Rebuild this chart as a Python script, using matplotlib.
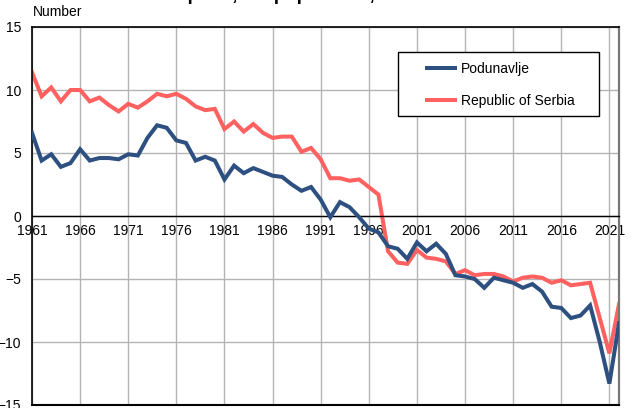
import matplotlib.pyplot as plt
from matplotlib.patches import Rectangle

plt.rcParams['font.family'] = ['Liberation Sans', 'DejaVu Sans']

years = list(range(1961, 2023))

# natural increase per 1,000 population
podunavlje = [6.6, 4.4, 4.9, 3.9, 4.2, 5.3, 4.4, 4.6, 4.6, 4.5,
              4.9, 4.8, 6.2, 7.2, 7.0, 6.0, 5.8, 4.4, 4.7, 4.4,
              2.9, 4.0, 3.4, 3.8, 3.5, 3.2, 3.1, 2.5, 2.0, 2.3,
              1.3, -0.1, 1.1, 0.7, -0.1, -1.0, -1.3, -2.4, -2.6, -3.4,
              -2.1, -2.8, -2.2, -3.0, -4.7, -4.8, -5.0, -5.7, -4.9, -5.1,
              -5.3, -5.7, -5.4, -6.0, -7.2, -7.3, -8.1, -7.9, -7.1, -10.0,
              -13.3, -8.5]
serbia = [11.4, 9.5, 10.2, 9.1, 10.0, 10.0, 9.1, 9.4, 8.8, 8.3,
          8.9, 8.6, 9.1, 9.7, 9.5, 9.7, 9.3, 8.7, 8.4, 8.5,
          6.9, 7.5, 6.7, 7.3, 6.6, 6.2, 6.3, 6.3, 5.1, 5.4,
          4.5, 3.0, 3.0, 2.8, 2.9, 2.3, 1.7, -2.8, -3.7, -3.8,
          -2.7, -3.3, -3.4, -3.6, -4.6, -4.3, -4.7, -4.6, -4.6, -4.8,
          -5.2, -4.9, -4.8, -4.9, -5.3, -5.1, -5.5, -5.4, -5.3, -8.1,
          -10.9, -7.0]

fig = plt.figure(figsize=(6.33, 4.08), dpi=100)
ax = fig.add_axes([32 / 633, 3 / 408, 587 / 633, 378 / 408])

ax.plot(years, podunavlje, color='#2d5080', lw=2.9, label='Podunavlje',
        solid_joinstyle='miter', zorder=3)
ax.plot(years, serbia, color='#ff6161', lw=2.9, label='Republic of Serbia',
        solid_joinstyle='miter', zorder=2)

ax.set_xlim(1961, 2022)
ax.set_ylim(-15, 15)
ax.set_xticks(range(1961, 2022, 5))
ax.set_yticks(range(-15, 16, 5))
ax.grid(True, color='#b4b4b4', lw=1)
ax.set_axisbelow(True)

ax.spines['bottom'].set_position(('data', 0))
ax.spines['bottom'].set_linewidth(1)
for s in ['top', 'left']:
    ax.spines[s].set_linewidth(1.2)
ax.spines['right'].set_color('#777777')
ax.spines['right'].set_linewidth(1.6)
ax.axhline(-15, color='black', lw=1.5, clip_on=False, zorder=4)

ax.tick_params(axis='both', length=0, labelsize=10)
ax.tick_params(axis='x', pad=6)
ax.tick_params(axis='y', pad=8)

# legend box drawn separately so it can have wide side padding
ax.add_patch(Rectangle((0.6235, 0.7646), 0.3424, 0.1693, transform=ax.transAxes,
                       facecolor='white', edgecolor='black', lw=1, zorder=5))
leg = ax.legend(loc='upper left', bbox_to_anchor=((427 - 32) / 587, (405 - 62) / 378),
                frameon=False, fontsize=10, handlelength=2.0, borderpad=0,
                labelspacing=1.3, borderaxespad=0, handletextpad=0.45)
leg.set_zorder(6)

fig.text(33 / 633, 1 - 12 / 408, 'Number', fontsize=10, va='center', ha='left')
fig.text(37 / 633, 1 - 0.5 / 408, 'Natural increase per 1,000 population, 1961-2022',
         fontsize=13.5, fontweight='bold', va='baseline', ha='left')

fig.savefig('out.png', dpi=100)
